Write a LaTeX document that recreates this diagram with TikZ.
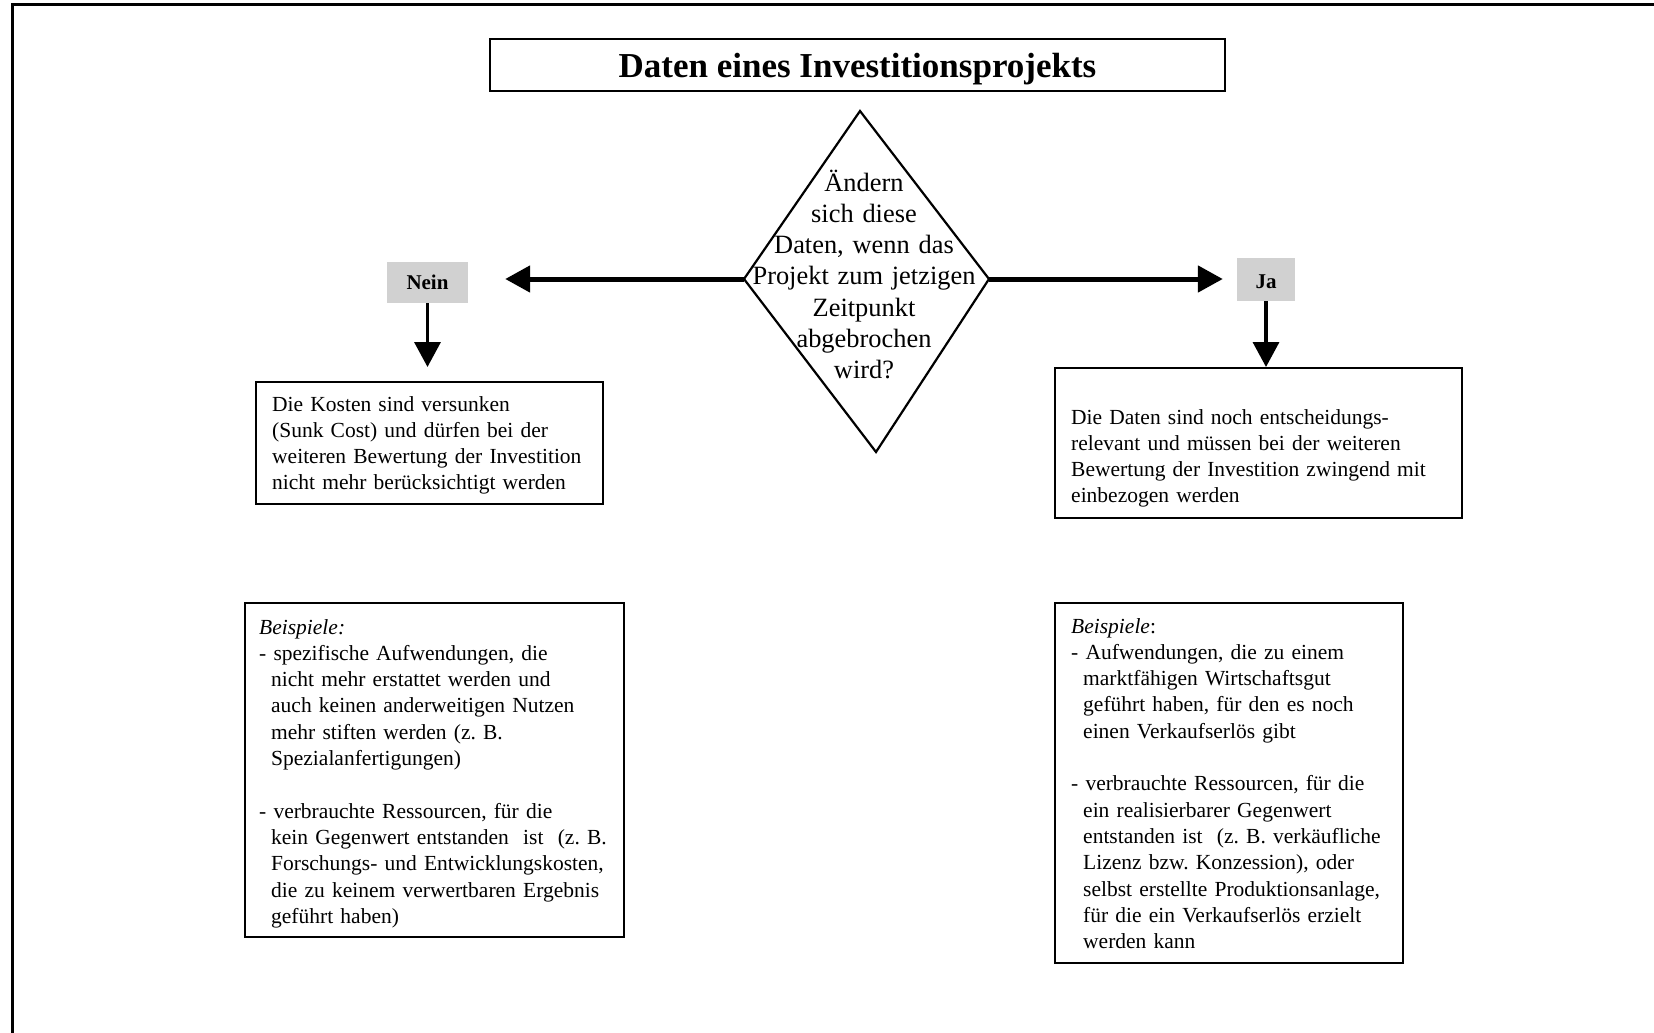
\documentclass[tikz,border=0pt]{standalone}
\usepackage{fontspec}
\setmainfont{Liberation Serif}
\usetikzlibrary{arrows.meta,calc}
\newcommand\myind{\hspace*{12pt}}
\frenchspacing
\begin{document}
\frenchspacing
\begin{tikzpicture}[x=1pt,y=-1pt,
  boxst/.style={draw, line width=2.2pt, inner sep=0pt, anchor=north west},
  txt/.style={inner sep=0pt, anchor=base west, text width=420pt, align=left, font=\fontsize{21.5}{26.3}\selectfont\frenchspacing},
  lab/.style={fill=black!18, inner sep=0pt, font=\fontsize{21}{24}\selectfont\bfseries},
  bigarrow/.style={line width=5pt, -{Triangle[length=25pt,width=26pt]}},
  downarrow/.style={line width=3.5pt, -{Triangle[length=25pt,width=26pt]}}
]
\useasboundingbox (0,0) rectangle (1654,1033);
\fill[white] (0,0) rectangle (1654,1033);
\draw[line width=3pt] (12,1040) -- (12,5) -- (1660,5);

% title
\node[draw, line width=2.6pt, minimum width=735pt, minimum height=52pt, inner sep=0pt] (title) at (857.5,65) {};
\node[inner sep=0pt, font=\fontsize{35}{40}\selectfont\bfseries] (titletext) at (857.5,69) {Daten eines Investitionsprojekts};

% decision diamond
\coordinate (dT) at (860,111);
\coordinate (dR) at (989,279);
\coordinate (dB) at (876,452);
\coordinate (dL) at (744,279);
\draw[line width=2.2pt, line join=miter] (dT) -- (dR) -- (dB) -- (dL) -- cycle;
\node[inner sep=0pt, anchor=base, text width=260pt, align=center,
      font=\fontsize{26.4}{31.3}\selectfont] (q) at (864,191)
  {Ändern\\sich diese\\Daten, wenn das\\Projekt zum jetzigen\\Zeitpunkt\\abgebrochen\\wird?};

% labels
\node[lab, minimum width=81pt, minimum height=41pt] (nein) at (427.5,282.5) {Nein};
\node[lab, minimum width=58pt, minimum height=43pt, text height=18pt, text depth=0pt] (ja) at (1266,279.5) {Ja};

\draw[bigarrow, shorten >=37pt] (dL) -- (dL -| nein.east);
\draw[bigarrow, shorten >=14pt] (dR) -- (dR -| ja.west);

% boxes
\node[boxst, minimum width=347pt, minimum height=122pt] (k1) at (255,381) {};
\node[boxst, minimum width=407pt, minimum height=150pt] (k2) at (1054,367) {};
\node[boxst, minimum width=379pt, minimum height=334pt] (k3) at (244,602) {};
\node[boxst, minimum width=348pt, minimum height=360pt] (k4) at (1054,602) {};

\draw[downarrow, shorten >=14pt] (nein.south) -- (nein.south |- k1.north);
\draw[downarrow] (ja.south) -- (ja.south |- k2.north);

% texts
\node[txt] (t1) at (272,411) {Die Kosten sind versunken\\(Sunk Cost) und dürfen bei der\\weiteren Bewertung der Investition\\nicht mehr berücksichtigt werden};
\node[txt] (t2) at (1071,424) {Die Daten sind noch entscheidungs-\\relevant und müssen bei der weiteren\\Bewertung der Investition zwingend mit\\einbezogen werden};
\node[txt] (t3) at (259,634) {\textit{Beispiele:}\\- spezifische Aufwendungen, die\\\myind nicht mehr erstattet werden und\\\myind auch keinen anderweitigen Nutzen\\\myind mehr stiften werden (z. B.\\\myind Spezialanfertigungen)\\[26.3pt]- verbrauchte Ressourcen, für die\\\myind kein Gegenwert entstanden\ \ ist\ \ (z. B.\\\myind Forschungs- und Entwicklungskosten,\\\myind die zu keinem verwertbaren Ergebnis\\\myind geführt haben)};
\node[txt] (t4) at (1071,633) {\textit{Beispiele}:\\- Aufwendungen, die zu einem\\\myind marktfähigen Wirtschaftsgut\\\myind geführt haben, für den es noch\\\myind einen Verkaufserlös gibt\\[26.3pt]- verbrauchte Ressourcen, für die\\\myind ein realisierbarer Gegenwert\\\myind entstanden ist\ \ (z. B. verkäufliche\\\myind Lizenz bzw. Konzession), oder\\\myind selbst erstellte Produktionsanlage,\\\myind für die ein Verkaufserlös erzielt\\\myind werden kann};
\end{tikzpicture}
\end{document}
